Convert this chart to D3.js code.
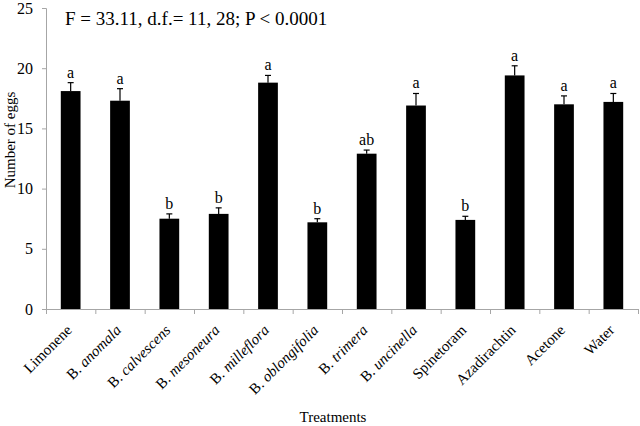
<!DOCTYPE html>
<html>
<head>
<meta charset="utf-8">
<script src="https://cdn.jsdelivr.net/npm/d3@7"></script>
<style>
  body { margin: 0; background: #fff; }
  svg text { font-family: "Liberation Serif", "Times New Roman", serif; fill: #000; }
</style>
</head>
<body>
<div id="chart"></div>
<script>
// treatments: [prefix (upright), italic part]
var treatments = [
    ["Limonene", ""], ["B. ", "anomala"], ["B. ", "calvescens"], ["B. ", "mesoneura"],
    ["B. ", "milleflora"], ["B. ", "oblongifolia"], ["B. ", "trimera"], ["B. ", "uncinella"],
    ["Spinetoram", ""], ["Azadirachtin", ""], ["Acetone", ""], ["Water", ""]
];
var means = [18.1, 17.3, 7.5, 7.9, 18.8, 7.2, 12.9, 16.9, 7.4, 19.4, 17.0, 17.2];
var errors = [0.7, 1.0, 0.4, 0.5, 0.6, 0.3, 0.3, 1.0, 0.3, 0.8, 0.7, 0.7];
var letters = ["a", "a", "b", "b", "a", "b", "ab", "a", "b", "a", "a", "a"];
var yTicks = [0, 5, 10, 15, 20, 25];

var width = 640, height = 426;
var margin = { left: 46, right: 2, top: 8, bottom: 117 };

var svg = d3.select("#chart").append("svg")
    .attr("width", width)
    .attr("height", height);

var g = svg.append("g")
    .attr("transform", "translate(" + margin.left + "," + margin.top + ")");

var w = width - margin.left - margin.right,
    h = height - margin.top - margin.bottom;

var x = d3.scaleBand()
    .domain(d3.range(treatments.length))
    .range([0, w])
    .paddingInner(0.6)
    .paddingOuter(0.3);

var y = d3.scaleLinear().domain([0, 25]).range([h, 0]);

// y axis
var yAxis = g.append("g")
    .call(d3.axisLeft(y).tickValues(yTicks).tickSize(4).tickPadding(9));
yAxis.selectAll("line, path").attr("stroke", "#a6a6a6");
yAxis.select(".domain").attr("d", "M-4,0.5H0.5V" + (h + 0.5) + "H-4");
yAxis.selectAll("text")
    .attr("font-size", "16px");

// x axis with ticks between categories
var xg = g.append("g").attr("transform", "translate(0," + h + ")");
xg.append("line")
    .attr("x1", 0).attr("x2", w)
    .attr("y1", 0.5).attr("y2", 0.5)
    .attr("stroke", "#a6a6a6");
xg.selectAll(".xtick")
    .data(d3.range(treatments.length + 1))
    .enter().append("line")
    .attr("class", "xtick")
    .attr("x1", function(d) { return d * x.step() + 0.5; })
    .attr("x2", function(d) { return d * x.step() + 0.5; })
    .attr("y1", 0).attr("y2", 5)
    .attr("stroke", "#a6a6a6");

var xl = xg.selectAll(".xlabel")
    .data(treatments)
    .enter().append("text")
    .attr("class", "xlabel")
    .attr("font-size", "15px")
    .attr("text-anchor", "end")
    .attr("transform", function(d, i) {
        return "translate(" + (x(i) + x.bandwidth() / 2 + 2) + ",22) rotate(-45)";
    });
xl.append("tspan").text(function(d) { return d[0]; });
xl.append("tspan").attr("font-style", "italic").text(function(d) { return d[1]; });

// bars
g.selectAll(".bar")
    .data(means)
    .enter().append("rect")
    .attr("class", "bar")
    .attr("x", function(d, i) { return x(i); })
    .attr("width", x.bandwidth())
    .attr("y", function(d) { return y(d); })
    .attr("height", function(d) { return h - y(d); })
    .attr("fill", "#000");

// error bars (upper only)
var eb = g.selectAll(".err")
    .data(means)
    .enter().append("g")
    .attr("class", "err");
eb.append("line")
    .attr("x1", function(d, i) { return x(i) + x.bandwidth() / 2; })
    .attr("x2", function(d, i) { return x(i) + x.bandwidth() / 2; })
    .attr("y1", function(d) { return y(d); })
    .attr("y2", function(d, i) { return y(d + errors[i]); })
    .attr("stroke", "#000").attr("stroke-width", 1.2);
eb.append("line")
    .attr("x1", function(d, i) { return x(i) + x.bandwidth() / 2 - 3; })
    .attr("x2", function(d, i) { return x(i) + x.bandwidth() / 2 + 3; })
    .attr("y1", function(d, i) { return y(d + errors[i]); })
    .attr("y2", function(d, i) { return y(d + errors[i]); })
    .attr("stroke", "#000").attr("stroke-width", 1.2);

// significance letters
g.selectAll(".letter")
    .data(means)
    .enter().append("text")
    .attr("class", "letter")
    .attr("font-size", "16px")
    .attr("text-anchor", "middle")
    .attr("x", function(d, i) { return x(i) + x.bandwidth() / 2; })
    .attr("y", function(d, i) { return y(d + errors[i]) - 5; })
    .text(function(d, i) { return letters[i]; });

// stats text
svg.append("text")
    .attr("x", 65)
    .attr("y", 25)
    .attr("font-size", "19px")
    .text("F = 33.11, d.f.= 11, 28; P < 0.0001");

// axis titles
svg.append("text")
    .attr("transform", "translate(15,140) rotate(-90)")
    .attr("text-anchor", "middle")
    .attr("font-size", "15px")
    .text("Number of eggs");

svg.append("text")
    .attr("x", 333)
    .attr("y", 422)
    .attr("text-anchor", "middle")
    .attr("font-size", "15px")
    .text("Treatments");
</script>
</body>
</html>
